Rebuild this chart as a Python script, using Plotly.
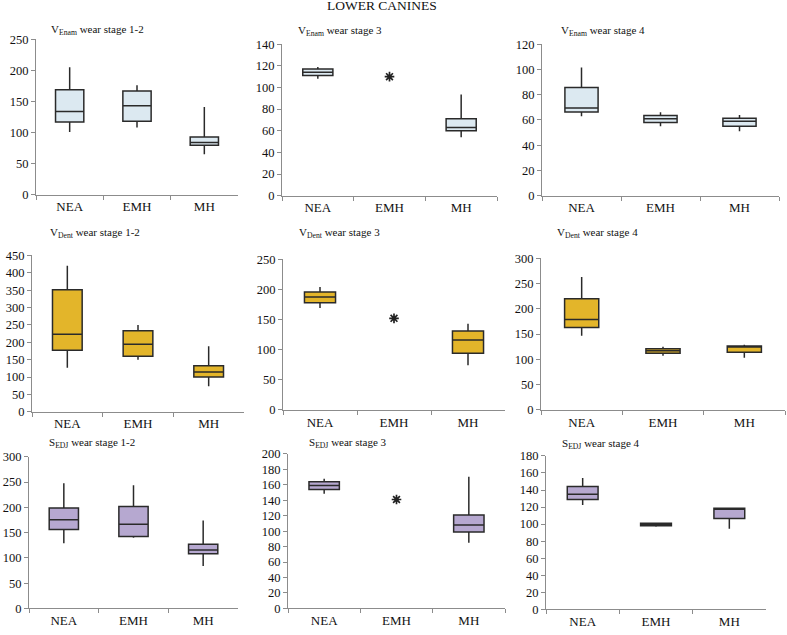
import plotly.graph_objects as go

categories = ["NEA", "EMH", "MH"]

panel_titles = [
    "V<sub>Enam</sub> wear stage 1-2", "V<sub>Enam</sub> wear stage 3", "V<sub>Enam</sub> wear stage 4",
    "V<sub>Dent</sub> wear stage 1-2", "V<sub>Dent</sub> wear stage 3", "V<sub>Dent</sub> wear stage 4",
    "S<sub>EDJ</sub> wear stage 1-2", "S<sub>EDJ</sub> wear stage 3", "S<sub>EDJ</sub> wear stage 4",
]

# box statistics per panel, in order NEA, EMH, MH (None = single value shown as asterisk)
lower_whisker = [
    [101, 108, 65], [108, None, 54], [63, 55, 51],
    [127, 150, 74], [169, None, 74], [147, 107, 103],
    [129, 140, 84], [148.6, None, 85], [122.5, 97, 94.6],
]
q1 = [
    [117, 118, 79.5], [111, None, 60], [66.3, 58, 55],
    [177, 160, 100.5], [178, None, 94], [163, 112, 114],
    [156, 142.6, 108], [154, None, 99], [129, 98, 106.5],
]
median = [
    [134, 143, 84], [114, None, 63], [69.4, 61, 58.9],
    [223, 194.5, 115], [187.5, None, 116], [179, 117, 125],
    [175.5, 166.5, 115.5], [159, None, 108], [135, 100, 118],
]
q3 = [
    [169, 167, 93], [117, None, 71], [85.6, 63.5, 61.4],
    [351, 233, 133], [195.6, None, 131], [220, 121, 126.5],
    [199, 202, 127], [164, None, 121], [144, 101, 118.5],
]
upper_whisker = [
    [205, 176, 141], [119, None, 93.5], [101.5, 66, 64],
    [420, 250, 189], [204, None, 143], [263, 125, 129],
    [248, 244, 174], [168, None, 170.5], [154, 102, 119],
]
single_value = [None, 110, None, None, 152, None, None, 141, None]

y_max = [250, 140, 120, 450, 250, 300, 300, 200, 180]
y_step = [50, 20, 20, 50, 50, 50, 50, 20, 20]
row_colors = ["#dce9f1", "#e3b52a", "#b6a8d0"]

# panel plot areas in pixels: x0, x1, ytop, ybottom
W, H = 787, 635
panels_px = [
    (36, 238, 33, 192), (282, 497, 38, 193), (542, 779, 38, 193),
    (32, 244, 254, 414), (283, 505, 258, 412), (541, 785, 257, 412),
    (29, 238, 460, 615), (288, 505, 457, 615), (546, 766, 459, 616),
]
title_px = [
    (49, 24), (296, 25), (559, 25),
    (48, 231), (297, 231), (555, 231),
    (47, 446), (307, 446), (560, 447),
]

FONT = "Liberation Serif"
fig = go.Figure()
annotations = []
for i in range(9):
    xa = "x" if i == 0 else f"x{i+1}"
    ya = "y" if i == 0 else f"y{i+1}"
    color = row_colors[i // 3]
    idx = [k for k in range(3) if q1[i][k] is not None]
    fig.add_trace(go.Box(
        x=[categories[k] for k in idx],
        q1=[q1[i][k] for k in idx],
        median=[median[i][k] for k in idx],
        q3=[q3[i][k] for k in idx],
        lowerfence=[lower_whisker[i][k] for k in idx],
        upperfence=[upper_whisker[i][k] for k in idx],
        fillcolor=color,
        line=dict(color="#2a2a2a", width=1.5),
        whiskerwidth=0,
        width=0.42,
        boxpoints=False,
        hoverinfo="skip",
        xaxis=xa, yaxis=ya,
        showlegend=False,
    ))
    if single_value[i] is not None:
        fig.add_trace(go.Scatter(
            x=["EMH"], y=[single_value[i]], mode="markers",
            marker=dict(symbol="asterisk-open", size=8, color="#222",
                        line=dict(color="#222", width=1.7)),
            xaxis=xa, yaxis=ya, showlegend=False, hoverinfo="skip",
        ))
    x0, x1, yt, yb = panels_px[i]
    key = "" if i == 0 else str(i + 1)
    fig.update_layout(**{
        f"xaxis{key}": dict(
            domain=[x0 / W, x1 / W], anchor=ya,
            categoryorder="array", categoryarray=categories,
            range=[-0.5, 2.5], type="category",
            showline=True, linecolor="#8c8c8c", linewidth=1,
            ticks="outside", tickson="boundaries", ticklen=4, tickcolor="#8c8c8c",
            showgrid=False, zeroline=False,
            tickfont=dict(family=FONT, size=13, color="#111"),
        ),
        f"yaxis{key}": dict(
            domain=[1 - yb / H, 1 - yt / H], anchor=xa,
            range=[0, y_max[i]], dtick=y_step[i], tick0=0,
            showline=True, linecolor="#8c8c8c", linewidth=1,
            ticks="outside", ticklen=4, tickcolor="#8c8c8c",
            showgrid=False, zeroline=False,
            tickfont=dict(family=FONT, size=12.5, color="#111"),
        ),
    })
    tx, ty = title_px[i]
    annotations.append(dict(
        text=panel_titles[i], x=tx / W, y=1 - ty / H, xref="paper", yref="paper",
        xanchor="left", yanchor="middle", showarrow=False,
        font=dict(family=FONT, size=11, color="#111"),
    ))

annotations.append(dict(
    text="LOWER CANINES", x=382 / W, y=1 + 2 / H, xref="paper", yref="paper",
    xanchor="center", yanchor="middle", showarrow=False,
    font=dict(family=FONT, size=13.5, color="#111"),
))

fig.update_layout(
    width=W, height=H,
    margin=dict(l=0, r=0, t=0, b=0),
    paper_bgcolor="white", plot_bgcolor="white",
    annotations=annotations,
)

fig.write_html(
    "out.html",
    config={"displayModeBar": False},
    post_script="document.body.style.margin='0';document.body.style.overflow='hidden';",
)
